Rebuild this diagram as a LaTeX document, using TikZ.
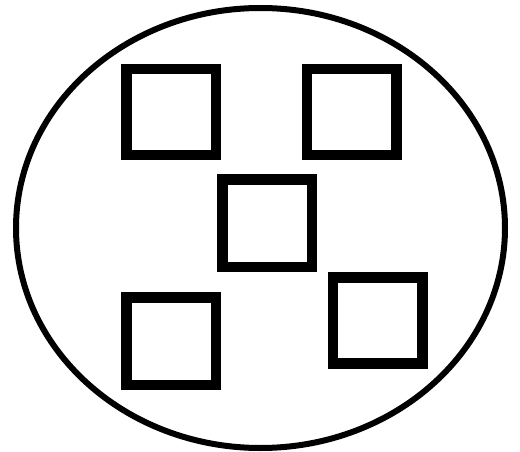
\documentclass[tikz,border=0pt]{standalone}
\begin{document}
\begin{tikzpicture}[x=1pt,y=-1pt,
  outline/.style={draw=black,line width=6pt},
  box/.style={draw=black,line width=10.5pt,miter limit=10}]
\useasboundingbox[fill=white] (0,0) rectangle (520,452);
\draw[outline] (260.5,228) ellipse [x radius=244.5,y radius=220];
\draw[box] (126.25,69.25) rectangle (215.75,154.75);
\draw[box] (306.95,69.25) rectangle (396.45,154.75);
\draw[box] (222.55,179.55) rectangle (312.05,267.05);
\draw[box] (126.25,297.55) rectangle (215.75,385.05);
\draw[box] (332.95,277.55) rectangle (422.45,363.45);
\end{tikzpicture}
\end{document}
